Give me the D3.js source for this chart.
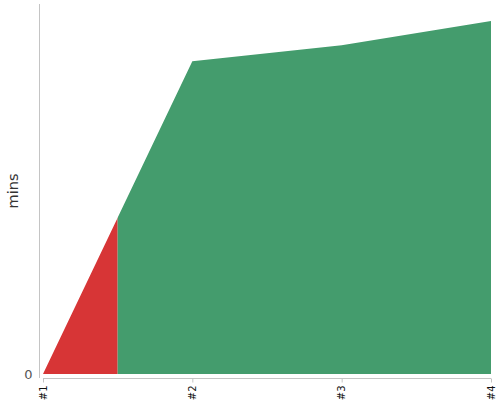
<!DOCTYPE html>
<html>
<head>
<meta charset="utf-8">
<script src="https://cdn.jsdelivr.net/npm/d3@7"></script>
<style>
  body { margin: 0; background: #fff; }
  svg { display: block; font-family: "DejaVu Sans", sans-serif; }
</style>
</head>
<body>
<svg id="chart" width="500" height="400"></svg>
<script>
// chart data
const categories = ["#1", "#2", "#3", "#4"];
const minutes = [0, 31.0, 32.6, 35.0];
const statuses = ["bad", "good", "good", "good"];
const yTicks = [0];
const yLabel = "mins";

const width = 500, height = 400;
const margin = { top: 21, right: 9, bottom: 26, left: 43 };

const svg = d3.select("#chart");

const x = d3.scalePoint()
    .domain(categories)
    .range([margin.left, width - margin.right]);

const y = d3.scaleLinear()
    .domain([0, d3.max(minutes)])
    .range([height - margin.bottom, margin.top]);

const color = d3.scaleOrdinal()
    .domain(["bad", "good"])
    .range(["#d73536", "#449c6d"]);

const points = categories.map((c, i) => ({ cat: c, value: minutes[i], status: statuses[i] }));

// group neighbouring points with the same status; each point owns
// the half-interval either side of it
const step = x.step();
const runs = [];
points.forEach((p, i) => {
    const x0 = i === 0 ? x(p.cat) : x(p.cat) - step / 2;
    const x1 = i === points.length - 1 ? x(p.cat) : x(p.cat) + step / 2;
    const last = runs[runs.length - 1];
    if (last && last.status === p.status) last.x1 = x1;
    else runs.push({ status: p.status, x0, x1 });
});

const defs = svg.append("defs");
runs.forEach((r, i) => {
    defs.append("clipPath")
        .attr("id", "run" + i)
      .append("rect")
        .attr("x", r.x0)
        .attr("y", 0)
        .attr("width", r.x1 - r.x0)
        .attr("height", height);
});

const area = d3.area()
    .x(d => x(d.cat))
    .y0(y(0))
    .y1(d => y(d.value));

svg.append("g")
  .selectAll("path")
  .data(runs)
  .join("path")
    .attr("clip-path", (d, i) => `url(#run${i})`)
    .attr("fill", d => color(d.status))
    .attr("d", area(points));

// Y axis
const yAxis = svg.append("g")
    .attr("transform", `translate(39.5,0)`);
yAxis.append("line")
    .attr("y1", 4).attr("y2", height - margin.bottom + 4)
    .attr("stroke", "#c4c4c4");
yAxis.selectAll("text")
  .data(yTicks)
  .join("text")
    .attr("x", -7)
    .attr("y", d => y(d))
    .attr("dy", "0.35em")
    .attr("text-anchor", "end")
    .attr("fill", "#555")
    .attr("font-size", 13)
    .text(d => d);

// X axis
const xAxis = svg.append("g")
    .attr("transform", `translate(0,${height - margin.bottom + 4.5})`);
xAxis.append("line")
    .attr("x1", margin.left).attr("x2", width - margin.right)
    .attr("stroke", "#c4c4c4");
xAxis.selectAll(".tick")
  .data(categories)
  .join("line")
    .attr("class", "tick")
    .attr("x1", d => x(d) + 0.5).attr("x2", d => x(d) + 0.5)
    .attr("y1", 0).attr("y2", 4)
    .attr("stroke", "#c4c4c4");
xAxis.selectAll("text")
  .data(categories)
  .join("text")
    .attr("transform", d => `translate(${x(d)},7) rotate(-90)`)
    .attr("dy", "0.35em")
    .attr("text-anchor", "end")
    .attr("fill", "#111")
    .attr("font-size", 10)
    .text(d => d);

// Y label
svg.append("text")
    .attr("transform", `translate(13,${(4 + height - margin.bottom + 4) / 2}) rotate(-90)`)
    .attr("dy", "0.35em")
    .attr("text-anchor", "middle")
    .attr("fill", "#333")
    .attr("font-size", 14.5)
    .text(yLabel);
</script>
</body>
</html>
